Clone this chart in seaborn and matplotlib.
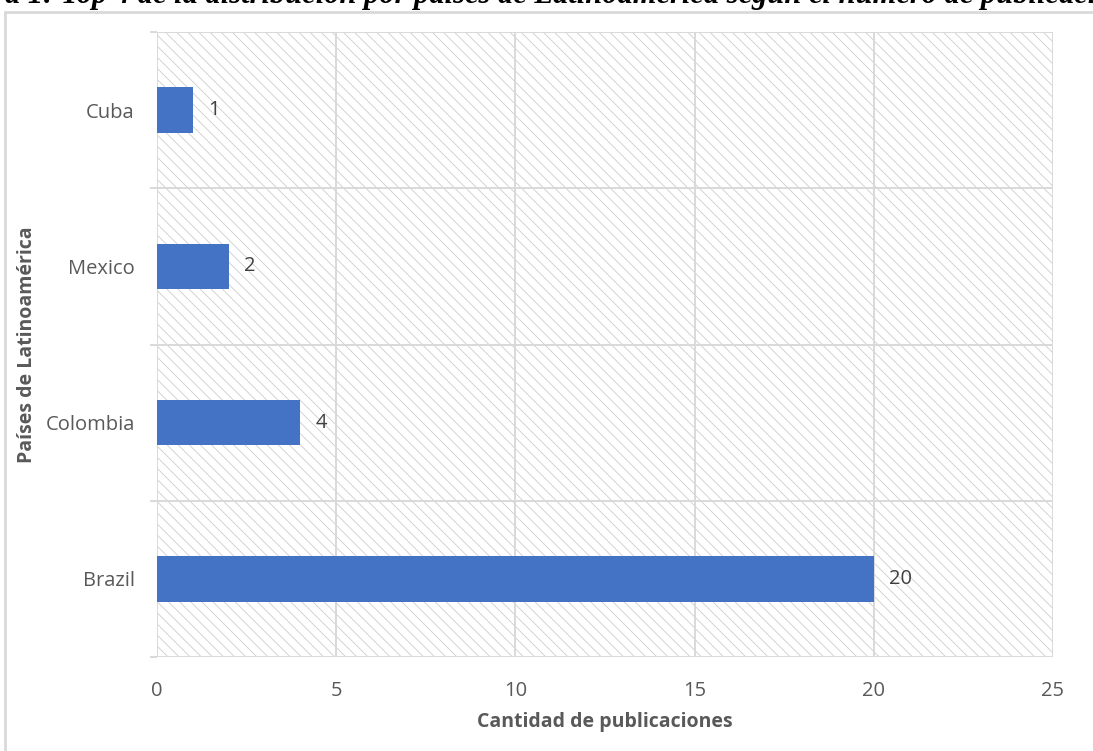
import matplotlib
matplotlib.use("Agg")
import matplotlib.pyplot as plt
from matplotlib.patches import Rectangle
import seaborn as sns
import pandas as pd

# Data
countries = ["Cuba", "Mexico", "Colombia", "Brazil"]
publications = [1, 2, 4, 20]
x_ticks = [0, 5, 10, 15, 20, 25]

title_text = ("Figura 1: Top 4 de la distribución por países de Latinoamérica "
              "según el número de publicaciones")
x_label = "Cantidad de publicaciones"
y_label = "Países de Latinoamérica"

sns.set_theme(style="white")
plt.rcParams["font.family"] = ["Open Sans", "DejaVu Sans"]
plt.rcParams["hatch.linewidth"] = 0.6
plt.rcParams["hatch.color"] = "#cccccc"

TEXT = "#595959"
GRID = "#d9d9d9"
BAR = "#4472C4"
FS = 14.5

df = pd.DataFrame({"country": countries, "count": publications})

fig = plt.figure(figsize=(10.93, 7.51), dpi=100)
ax = fig.add_axes([157 / 1093, 1 - 657 / 751, (1053 - 157) / 1093, (657 - 32) / 751])

# Outer chart frame
fig.patches.append(Rectangle((5 / 1093, -0.01), 1.0, 1 - 12 / 751 + 0.01,
                             transform=fig.transFigure, facecolor="none",
                             edgecolor=GRID, linewidth=2.0, zorder=0))

# Caption line running along the top edge
fig.text(-0.062, 1 - 3 / 751, title_text, fontsize=22, fontstyle="italic",
         fontweight="bold", family="Liberation Serif", color="black",
         ha="left", va="baseline")

# Hatched plot area
ax.set_facecolor("white")
ax.add_patch(Rectangle((0, 0), 1, 1, transform=ax.transAxes, facecolor="white",
                       edgecolor="#cccccc", hatch="\\" * 3, linewidth=0, zorder=0))

sns.barplot(data=df, x="count", y="country", order=countries, orient="h",
            color=BAR, width=0.29, saturation=1, linewidth=0, ax=ax, zorder=3)

ax.set_xlim(0, 25)
ax.set_ylim(len(countries) - 0.5, -0.5)
ax.set_xticks(x_ticks)
ax.set_xticklabels([str(t) for t in x_ticks])

# Gridlines: vertical on value ticks, horizontal between categories
for t in x_ticks:
    ax.axvline(t, color=GRID, linewidth=1.4, zorder=1)
bounds = [i - 0.5 for i in range(len(countries) + 1)]
for b in bounds:
    ax.axhline(b, color=GRID, linewidth=1.4, zorder=1)
ax.set_yticks(bounds, minor=True)
ax.tick_params(axis="y", which="minor", length=5, width=1.4, color=GRID, left=True)
ax.tick_params(axis="y", which="major", length=0, pad=16, labelsize=FS, labelcolor=TEXT)
ax.tick_params(axis="x", which="major", length=0, pad=17, labelsize=FS, labelcolor=TEXT)

for s in ax.spines.values():
    s.set_visible(False)

# Value labels
for i, v in enumerate(publications):
    ax.annotate(str(v), xy=(v, i), xytext=(15, 0), textcoords="offset pixels",
                ha="left", va="center", fontsize=FS, color="#404040", zorder=4)

ax.set_xlabel(x_label, fontsize=14, fontweight="bold", color=TEXT, labelpad=8)
ax.set_ylabel(y_label, fontsize=14, fontweight="bold", color=TEXT, labelpad=6)

fig.savefig("out.png", dpi=100)
